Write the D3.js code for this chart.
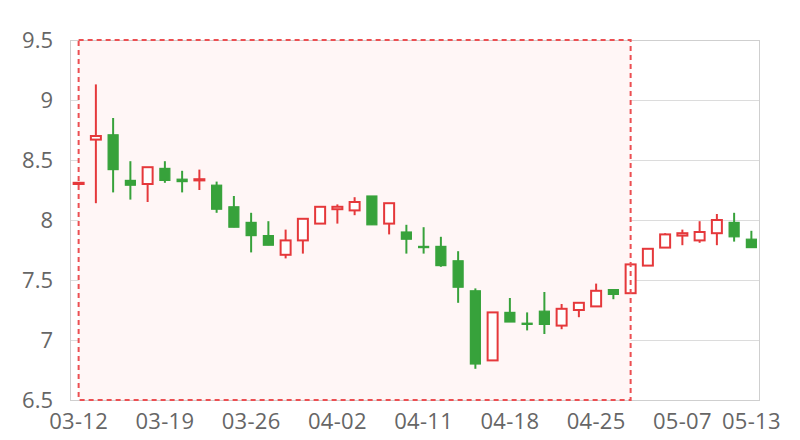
<!DOCTYPE html>
<html>
<head>
<meta charset="utf-8">
<script src="https://cdn.jsdelivr.net/npm/d3@7/dist/d3.min.js"></script>
<style>
  html, body { margin: 0; padding: 0; background: #fff; }
  svg { display: block; }
  text { font-family: "Open Sans", "Noto Sans", sans-serif; fill: #666; }
</style>
</head>
<body>
<svg id="chart" width="800" height="440"></svg>
<script>
const dates = ["03-12","03-13","03-14","03-15","03-18","03-19","03-20","03-21","03-22","03-25",
  "03-26","03-27","03-28","03-29","04-01","04-02","04-03","04-04","04-08","04-09",
  "04-11","04-12","04-15","04-16","04-17","04-18","04-19","04-22","04-23","04-24",
  "04-25","04-26","04-29","04-30","05-06","05-07","05-08","05-09","05-10","05-13"];
const openV  = [8.30,8.67,8.71,8.33,8.30,8.43,8.34,8.33,8.29,8.11,7.98,7.87,7.71,7.83,7.97,8.09,8.08,8.20,7.97,7.90,7.78,7.78,7.66,7.41,6.83,7.23,7.14,7.24,7.12,7.25,7.28,7.42,7.39,7.62,7.77,7.87,7.83,7.89,7.98,7.84];
const closeV = [8.31,8.70,8.42,8.29,8.44,8.33,8.32,8.34,8.09,7.94,7.87,7.79,7.83,8.01,8.11,8.11,8.15,7.96,8.14,7.84,7.77,7.62,7.44,6.80,7.23,7.15,7.13,7.13,7.26,7.31,7.41,7.38,7.63,7.76,7.88,7.89,7.90,8.00,7.86,7.77];
const highV  = [8.31,9.13,8.85,8.49,8.44,8.49,8.41,8.42,8.32,8.20,8.06,7.99,7.92,8.01,8.11,8.13,8.19,8.20,8.14,7.96,7.94,7.86,7.74,7.43,7.23,7.35,7.23,7.40,7.30,7.31,7.47,7.42,7.63,7.76,7.89,7.92,7.99,8.05,8.06,7.91];
const lowV   = [8.30,8.14,8.23,8.17,8.15,8.31,8.23,8.25,8.06,7.94,7.73,7.79,7.68,7.72,7.97,7.97,8.04,7.96,7.88,7.72,7.72,7.61,7.31,6.76,6.83,7.15,7.08,7.05,7.09,7.19,7.28,7.34,7.39,7.62,7.77,7.79,7.81,7.79,7.82,7.77];
const xTickLabels = ["03-12","03-19","03-26","04-02","04-11","04-18","04-25","05-07","05-13"];
const yTicks = [6.5,7,7.5,8,8.5,9,9.5];
const markAreaRange = ["03-12","04-29"];

const upColor = "#e5383b", downColor = "#37a23b";
const margin = {left: 70, right: 40, top: 40, bottom: 40};
const W = 800, H = 440;
const svg = d3.select("#chart");

const x = d3.scaleBand().domain(dates).range([margin.left, W - margin.right]).padding(0);
const y = d3.scaleLinear().domain([6.5, 9.5]).range([H - margin.bottom, margin.top]);
const cx = d => x(d) + x.bandwidth() / 2;

// grid lines
svg.append("g").selectAll("line").data(yTicks).join("line")
  .attr("x1", margin.left).attr("x2", W - margin.right)
  .attr("y1", d => y(d)).attr("y2", d => y(d))
  .attr("stroke", "#dcdcdc").attr("stroke-width", 1).attr("shape-rendering", "crispEdges");

// mark area fill
const mx0 = cx(markAreaRange[0]), mx1 = cx(markAreaRange[1]);
svg.append("rect")
  .attr("x", mx0).attr("y", y(9.5)).attr("width", mx1 - mx0).attr("height", y(6.5) - y(9.5))
  .attr("fill", "#fff6f6");

// frame
svg.append("rect")
  .attr("x", margin.left + 0.5).attr("y", margin.top + 0.5)
  .attr("width", W - margin.left - margin.right - 1).attr("height", H - margin.top - margin.bottom)
  .attr("fill", "none").attr("stroke", "#cfcfcf").attr("stroke-width", 1);

// y axis labels
const yAxis = d3.axisLeft(y).tickValues(yTicks).tickSize(0).tickPadding(17).tickFormat(d3.format("~g"));
const yg = svg.append("g").attr("transform", `translate(${margin.left},0)`).call(yAxis);
yg.select(".domain").remove();
yg.selectAll("text").attr("font-size", 22).attr("fill", "#666").attr("dy", "0.35em")
  .style("font-family", '"Open Sans", "Noto Sans", sans-serif');

// x axis labels
const xAxis = d3.axisBottom(x).tickValues(xTickLabels).tickSize(0).tickPadding(13);
const xg = svg.append("g").attr("transform", `translate(0,${H - margin.bottom})`).call(xAxis);
xg.select(".domain").remove();
xg.selectAll("text").attr("font-size", 22).attr("fill", "#666").attr("letter-spacing", "0.3px")
  .style("font-family", '"Open Sans", "Noto Sans", sans-serif');

// candles
const data = dates.map((d, i) => ({d, o: openV[i], c: closeV[i], h: highV[i], l: lowV[i]}));
const bw = 10;
const g = svg.append("g");
const candle = g.selectAll("g").data(data).join("g");
candle.append("line")
  .attr("x1", d => cx(d.d)).attr("x2", d => cx(d.d))
  .attr("y1", d => y(d.h)).attr("y2", d => y(d.l))
  .attr("stroke", d => d.c >= d.o ? upColor : downColor).attr("stroke-width", 2);
candle.append("rect")
  .attr("x", d => cx(d.d) - bw / 2)
  .attr("y", d => y(Math.max(d.o, d.c)))
  .attr("width", bw)
  .attr("height", d => Math.max(1, Math.abs(y(d.o) - y(d.c))))
  .attr("fill", d => d.c >= d.o ? "#fff" : downColor)
  .attr("stroke", d => d.c >= d.o ? upColor : downColor)
  .attr("stroke-width", d => d.c >= d.o ? 2 : 1.2);

// mark area dashed border
svg.append("rect")
  .attr("x", mx0).attr("y", y(9.5)).attr("width", mx1 - mx0).attr("height", y(6.5) - y(9.5))
  .attr("fill", "none").attr("stroke", "#ec4f52").attr("stroke-width", 2).attr("stroke-dasharray", "5,4");
</script>
</body>
</html>
